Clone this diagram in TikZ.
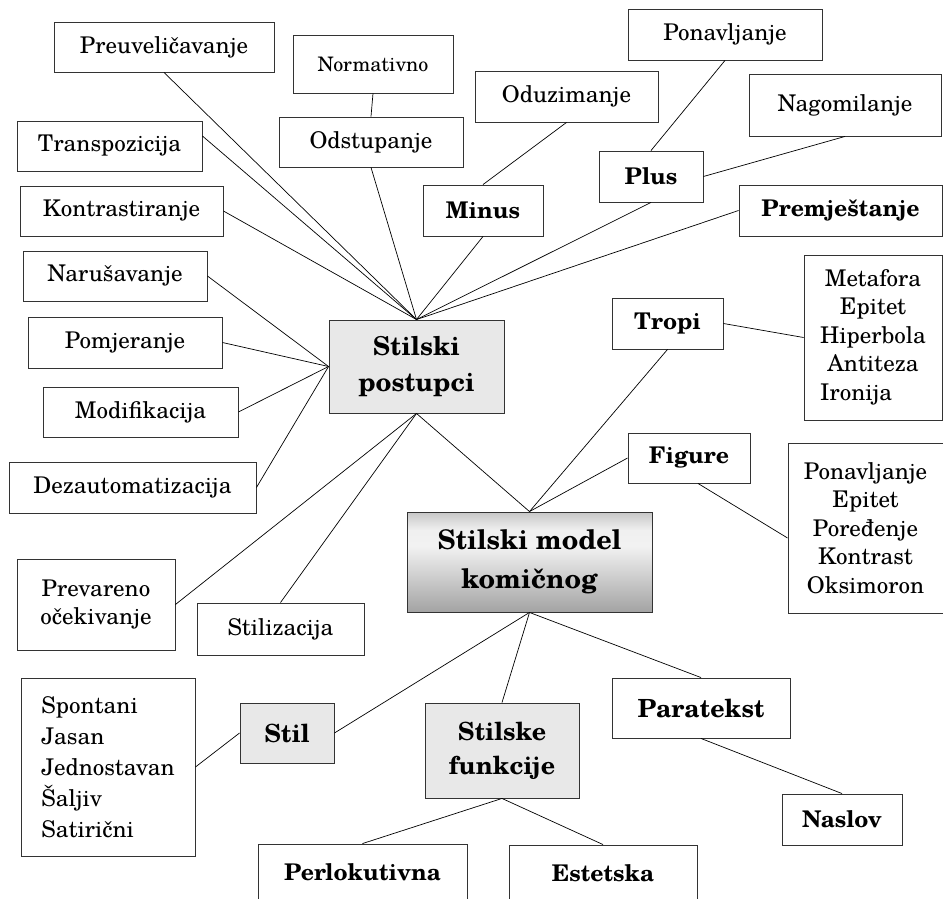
\documentclass[tikz,border=0pt]{standalone}
\usepackage{fontspec}
\setmainfont{texgyreschola}[Extension=.otf, UprightFont=*-regular, BoldFont=*-bold, ItalicFont=*-italic, BoldItalicFont=*-bolditalic]
\usetikzlibrary{calc}

% font sizes (picture units are 1pt)
\newcommand\fsnorm{\fontsize{23}{28.5}\selectfont}
\newcommand\fssmall{\fontsize{20}{24}\selectfont}
\newcommand\fsbig{\fontsize{25}{34}\selectfont}
\newcommand\fspost{\fontsize{26}{36}\selectfont}
\newcommand\fshuge{\fontsize{27}{39}\selectfont}

% metallic vertical shading of the central box
\pgfdeclareverticalshading{modelshade}{100bp}{color(0bp)=(black!36); color(25bp)=(black!36); color(58bp)=(black!5); color(66bp)=(black!6); color(75bp)=(black!22); color(100bp)=(black!22)}

\begin{document}
\begin{tikzpicture}[x=1pt,y=-1pt,
  box/.style={draw=black!80, line width=0.9pt, fill=white, inner sep=0pt, align=center, font=\fsnorm},
  hbox/.style={box, font=\fsnorm\bfseries},
  gbox/.style={box, fill=black!9, font=\fsbig\bfseries},
  link/.style={line width=0.7pt, draw=black}]
\useasboundingbox (0,0) rectangle (943,899);

% --- upper group ---
\node[box, minimum width=220pt, minimum height=50pt] (preuv) at (164,47) {Preuveličavanje};
\node[box, font=\fssmall, minimum width=160pt, minimum height=58pt] (norm) at (373,64) {Normativno};
\node[box, minimum width=184pt, minimum height=50pt] (odst) at (371,142) {Odstupanje};
\node[box, minimum width=183pt, minimum height=51pt] (oduz) at (566.5,96.5) {Oduzimanje};
\node[box, minimum width=194pt, minimum height=51pt] (ponav) at (725,34.5) {Ponavljanje};
\node[box, minimum width=192pt, minimum height=62pt] (nagom) at (845,105) {Nagomilanje};
\node[hbox, minimum width=104pt, minimum height=51pt] (plus) at (651,176.5) {Plus};
\node[hbox, minimum width=203pt, minimum height=51pt] (prem) at (840.5,210.5) {Premještanje};
\node[hbox, minimum width=120pt, minimum height=51pt] (minus) at (483,210.5) {Minus};
\node[box, minimum width=185pt, minimum height=50pt] (trans) at (109.5,146) {Transpozicija};
\node[box, minimum width=203pt, minimum height=50pt] (kontr) at (121.5,211) {Kontrastiranje};
\node[box, minimum width=184pt, minimum height=50pt] (narus) at (115,276) {Narušavanje};
\node[box, minimum width=194pt, minimum height=51pt] (pomj) at (125,342.5) {Pomjeranje};
\node[box, minimum width=195pt, minimum height=50pt] (modif) at (140.5,412) {Modifikacija};
\node[box, minimum width=247pt, minimum height=51pt] (dezaut) at (132.5,487.5) {Dezautomatizacija};
\node[gbox, font=\fspost\bfseries, minimum width=175pt, minimum height=93pt] (postupci) at (416.5,366.5) {Stilski\\postupci};

% --- right group ---
\node[hbox, minimum width=111pt, minimum height=51pt] (tropi) at (667.5,323.5) {Tropi};
\node[box, minimum width=138pt, minimum height=165pt] (metaf) at (873,337.5)
  {\begin{tabular}{@{}c@{}}Metafora\\Epitet\\Hiperbola\\Antiteza\\\multicolumn{1}{@{}l@{}}{Ironija}\end{tabular}};
\node[hbox, minimum width=122pt, minimum height=50pt] (figure) at (689,458) {Figure};
\node[box, minimum width=155pt, minimum height=170pt] (ponlist) at (865.5,528)
  {Ponavljanje\\Epitet\\Poređenje\\Kontrast\\Oksimoron};

% --- centre ---
\node[box, shading=modelshade, font=\fshuge\bfseries, minimum width=245pt, minimum height=100pt] (model) at (529.5,562) {Stilski model\\komičnog};

% --- lower group ---
\node[box, minimum width=158pt, minimum height=91pt] (prev) at (96,604.5) {Prevareno\\očekivanje};
\node[box, minimum width=167pt, minimum height=52pt] (stiliz) at (280.5,629) {Stilizacija};
\node[gbox, minimum width=94pt, minimum height=60pt] (stil) at (287,733) {Stil};
\node[box, align=left, font=\fontsize{23}{31}\selectfont, minimum width=174pt, minimum height=178pt] (spont) at (108,767)
  {Spontani\\Jasan\\Jednostavan\\Šaljiv\\Satirični};
\node[gbox, minimum width=154pt, minimum height=95pt] (funkc) at (502,750.5) {Stilske\\funkcije};
\node[box, font=\fsbig\bfseries, minimum width=178pt, minimum height=60pt] (parat) at (701,708) {Paratekst};
\node[hbox, minimum width=120pt, minimum height=51pt] (naslov) at (842,819.5) {Naslov};
\node[hbox, minimum width=209pt, minimum height=56pt] (perlok) at (362.5,872) {Perlokutivna};
\node[hbox, minimum width=188pt, minimum height=56pt] (estet) at (603,873) {Estetska};

% --- connectors ---
\draw[link] (postupci.north) -- (preuv.south);
\draw[link] (postupci.north) -- ($(trans.east)+(0,-10)$);
\draw[link] (postupci.north) -- (kontr.east);
\draw[link] (postupci.north) -- (odst.south);
\draw[link] (postupci.north) -- (minus.south);
\draw[link] (postupci.north) -- (plus.south);
\draw[link] (postupci.north) -- (prem.west);
\draw[link] (norm.south) -- (odst.north);
\draw[link] (oduz.south) -- (minus.north);
\draw[link] (ponav.south) -- (plus.north);
\draw[link] (plus.east) -- (nagom.south);
\draw[link] (postupci.west) -- (narus.east);
\draw[link] (postupci.west) -- (pomj.east);
\draw[link] (postupci.west) -- (modif.east);
\draw[link] (postupci.west) -- (dezaut.east);
\draw[link] (postupci.south) -- (prev.east);
\draw[link] (postupci.south) -- (stiliz.north);
\draw[link] (postupci.south) -- (model.north);
\draw[link] (model.north) -- (tropi.south);
\draw[link] (model.north) -- (figure.west);
\draw[link] (tropi.east) -- (metaf.west);
\draw[link] ($(figure.south)+(9,0)$) -- ($(ponlist.west)+(0,10)$);
\draw[link] (model.south) -- (stil.east);
\draw[link] (model.south) -- (funkc.north);
\draw[link] (model.south) -- (parat.north);
\draw[link] (stil.west) -- (spont.east);
\draw[link] (parat.south) -- (naslov.north);
\draw[link] (funkc.south) -- (perlok.north);
\draw[link] (funkc.south) -- (estet.north);
\end{tikzpicture}
\end{document}
